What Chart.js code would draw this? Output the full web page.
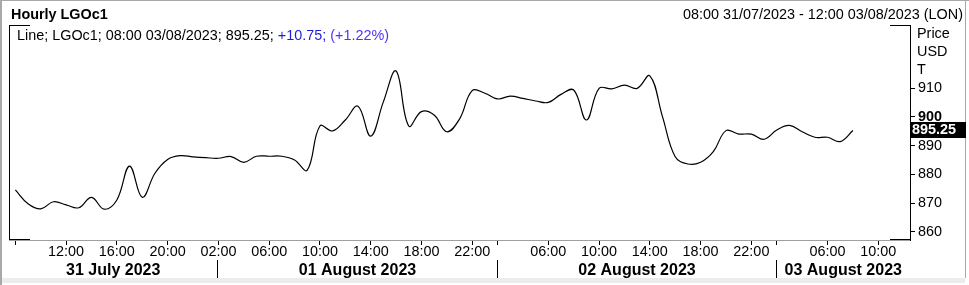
<!DOCTYPE html>
<html>
<head>
<meta charset="utf-8">
<script src="https://cdn.jsdelivr.net/npm/chart.js@4/dist/chart.umd.min.js"></script>
<style>
  html, body { margin: 0; padding: 0; background: #fff; }
  #wrap { width: 969px; height: 285px; position: relative; }
</style>
</head>
<body>
<div id="wrap"><canvas id="c"></canvas></div>
<script>
// ---- data ----
const categories = [
  '08:00','09:00','10:00','11:00','12:00','13:00','14:00','15:00','16:00','17:00','18:00','19:00','20:00','21:00','22:00',
  '01:00','02:00','03:00','04:00','05:00','06:00','07:00','08:00','09:00','10:00','11:00','12:00','13:00','14:00','15:00','16:00','17:00','18:00','19:00','20:00','21:00','22:00',
  '01:00','02:00','03:00','04:00','05:00','06:00','07:00','08:00','09:00','10:00','11:00','12:00','13:00','14:00','15:00','16:00','17:00','18:00','19:00','20:00','21:00','22:00',
  '01:00','02:00','03:00','04:00','05:00','06:00','07:00','08:00','09:00','10:00','11:00','12:00'
];
const prices = [
  874.6, 869.8, 868.0, 870.5, 869.4, 868.4, 872.0, 867.9, 871.1, 882.9, 872.0, 880.4, 885.2, 886.5, 886.1,
  885.8, 885.6, 886.2, 884.2, 886.3, 886.3, 886.3, 885.0, 881.5, 896.8, 895.1, 898.9, 903.7, 893.3, 905.2, 915.9, 896.8, 901.8, 900.6, 894.8, 899.2, 909.1,
  908.2, 906.2, 907.2, 906.4, 905.5, 905.0, 907.8, 909.3, 898.9, 909.9, 909.7, 911.0, 909.9, 914.2, 900.0, 886.1, 883.6, 884.2, 887.9, 895.2, 894.0, 894.0,
  892.2, 895.4, 897.0, 894.8, 892.9, 892.9, 891.4, 895.25
];
const yTicks = [860, 870, 880, 890, 900, 910];
const yBoldTick = 900;
const yRange = [857.2, 931.9];
const xTickIdx = [0, 4, 8, 12, 16, 20, 24, 28, 32, 36, 38, 42, 46, 50, 54, 58, 60, 64, 68];
const xHiddenLabelIdx = [0, 38, 60];
const dayLabels = ['31 July 2023', '01 August 2023', '02 August 2023', '03 August 2023'];
const daySepIdx = [16, 38, 60];
const titleText = 'Hourly LGOc1';
const rangeText = '08:00 31/07/2023 - 12:00 03/08/2023 (LON)';
const legendParts = ['Line; LGOc1; 08:00 03/08/2023; 895.25; ', '+10.75; ', '(+1.22%)'];
const unitLines = ['Price', 'USD', 'T'];
const lastValue = 895.25;

const FONT = '"Liberation Sans", Arial, sans-serif';
const FS = 14.4;

const decor = {
  id: 'decor',
  beforeDraw(chart) {
    const ctx = chart.ctx;
    ctx.save();
    ctx.fillStyle = '#fff';
    ctx.fillRect(0, 0, chart.width, chart.height);
    ctx.restore();
  },
  afterDraw(chart) {
    const ctx = chart.ctx;
    const a = chart.chartArea;
    const xs = chart.scales.x, ys = chart.scales.y;
    ctx.save();
    // window frame
    ctx.fillStyle = '#a9a9a9';
    ctx.fillRect(0, 0, 2, chart.height);
    ctx.fillRect(0, 0, chart.width, 1);
    ctx.fillRect(965, 0, 1, 278);
    ctx.fillStyle = '#ececec';
    ctx.fillRect(2, 278, 963, 5);

    // title / header
    ctx.fillStyle = '#000';
    ctx.textBaseline = 'alphabetic';
    ctx.font = 'bold ' + FS + 'px ' + FONT;
    ctx.textAlign = 'left';
    ctx.fillText(titleText, 11, 19);
    ctx.font = FS + 'px ' + FONT;
    ctx.textAlign = 'right';
    ctx.fillText(rangeText, 963, 19);

    // legend line
    ctx.textAlign = 'left';
    const colors = ['#000', '#1c1ce0', '#5533ee'];
    let lx = 17;
    legendParts.forEach((p, i) => {
      ctx.fillStyle = colors[i];
      ctx.fillText(p, lx, 39.5);
      lx += ctx.measureText(p).width;
    });

    // plot frame
    ctx.strokeStyle = '#000';
    ctx.lineWidth = 1;
    ctx.beginPath();
    ctx.moveTo(a.left + 0.5, a.top); ctx.lineTo(a.left + 0.5, a.bottom);
    ctx.moveTo(a.left, a.top + 0.5); ctx.lineTo(a.left + 21, a.top + 0.5);
    ctx.moveTo(a.right - 20, a.top + 0.5); ctx.lineTo(a.right, a.top + 0.5);
    ctx.moveTo(a.left, a.bottom - 0.5); ctx.lineTo(a.left + 21, a.bottom - 0.5);
    ctx.moveTo(a.right - 20, a.bottom - 0.5); ctx.lineTo(a.right, a.bottom - 0.5);
    ctx.stroke();

    // unit text
    ctx.fillStyle = '#000';
    ctx.font = FS + 'px ' + FONT;
    unitLines.forEach((t, i) => ctx.fillText(t, a.right + 7, 38 + i * 18));

    // last value box
    const yy = ys.getPixelForValue(lastValue);
    ctx.fillStyle = '#000';
    ctx.fillRect(a.right + 1, Math.round(yy) - 8, 55, 16);
    ctx.fillStyle = '#fff';
    ctx.font = 'bold ' + FS + 'px ' + FONT;
    ctx.textBaseline = 'middle';
    ctx.fillText(lastValue.toFixed(2), a.right + 2, Math.round(yy) + 0.5);

    // day separators and labels
    const seps = daySepIdx.map(i => Math.round(xs.getPixelForValue(i)) - 0.5);
    ctx.strokeStyle = '#000';
    ctx.beginPath();
    seps.forEach(s => { ctx.moveTo(s, 260); ctx.lineTo(s, 278); });
    ctx.stroke();
    const bounds = [a.left].concat(seps).concat([a.right]);
    ctx.font = 'bold 16px ' + FONT;
    ctx.textAlign = 'center';
    ctx.textBaseline = 'alphabetic';
    ctx.fillStyle = '#000';
    dayLabels.forEach((d, i) => {
      ctx.fillText(d, (bounds[i] + bounds[i + 1]) / 2, 274.5);
    });
    ctx.restore();
  }
};

new Chart(document.getElementById('c'), {
  type: 'line',
  data: {
    labels: categories,
    datasets: [{
      data: prices,
      borderColor: '#000',
      borderWidth: 1.2,
      pointRadius: 0,
      tension: 0.4,
      fill: false
    }]
  },
  options: {
    responsive: true,
    maintainAspectRatio: false,
    animation: false,
    events: [],
    layout: { padding: { left: 9, top: 25, right: 0, bottom: 0 } },
    plugins: { legend: { display: false }, tooltip: { enabled: false }, title: { display: false } },
    scales: {
      x: {
        type: 'category',
        offset: true,
        afterBuildTicks(s) { s.ticks = xTickIdx.map(i => ({ value: i })); },
        afterFit(s) { s.height = 45; },
        grid: {
          display: true, drawOnChartArea: false, drawTicks: true, tickLength: 5,
          color: '#000', offset: false
        },
        border: { display: true, color: '#a0a0a0', width: 1 },
        ticks: {
          autoSkip: false, maxRotation: 0, minRotation: 0, padding: 0,
          color: '#000',
          font: { family: FONT, size: FS, lineHeight: 1 },
          callback(v) { return xHiddenLabelIdx.includes(v) ? '' : categories[v]; }
        }
      },
      y: {
        type: 'linear',
        position: 'right',
        min: yRange[0],
        max: yRange[1],
        afterBuildTicks(s) { s.ticks = yTicks.map(v => ({ value: v })); },
        afterFit(s) { s.width = 59; },
        grid: { display: true, drawOnChartArea: false, drawTicks: true, tickLength: 5, color: '#000' },
        border: { display: true, color: '#000', width: 1 },
        ticks: {
          padding: 3,
          color: '#000',
          font(c) {
            return { family: FONT, size: FS, lineHeight: 1, weight: (c.tick && c.tick.value === yBoldTick) ? 'bold' : 'normal' };
          },
          callback(v) { return String(v); }
        }
      }
    }
  },
  plugins: [decor]
});
</script>
</body>
</html>
